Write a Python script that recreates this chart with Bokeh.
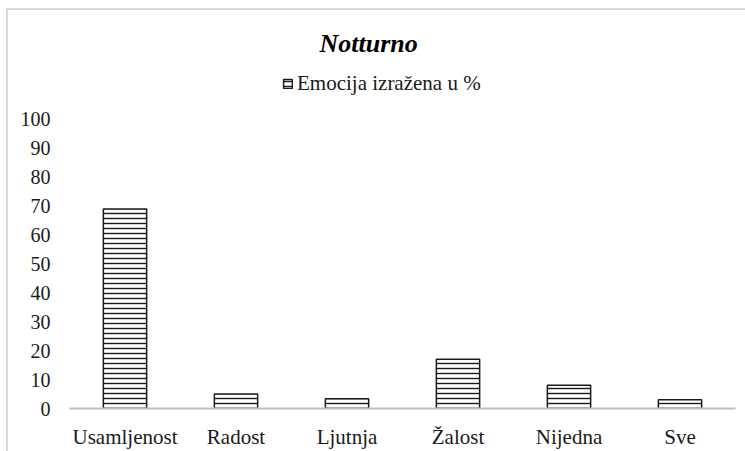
from bokeh.plotting import figure
from bokeh.models import Legend, LegendItem, FixedTicker, Range1d
from bokeh.embed import file_html
from bokeh.resources import INLINE

categories = ["Usamljenost", "Radost", "Ljutnja", "Žalost", "Nijedna", "Sve"]
values = [69, 5, 3.4, 17, 8, 3]
y_ticks = [0, 10, 20, 30, 40, 50, 60, 70, 80, 90, 100]
series_name = "Emocija izražena u %"
title_text = "Notturno"

FONT = "Liberation Serif"

p = figure(x_range=categories, width=745, height=451, output_backend="svg",
           toolbar_location=None, min_border_left=69, min_border_right=10,
           min_border_top=66, min_border_bottom=42)
p.y_range = Range1d(0, 118.3)
p.border_fill_alpha = 0
p.styles = {
    "background": ("linear-gradient(#d9d9d9, #d9d9d9) 6px 8px / 739px 2px no-repeat, "
                   "linear-gradient(#d9d9d9, #d9d9d9) 6px 8px / 2px 443px no-repeat, white"),
}

r = p.vbar(x=categories, top=values, width=0.39, fill_color="white",
           line_color="#1a1a1a", line_width=1.5, hatch_pattern="horizontal_line",
           hatch_color="#1a1a1a", hatch_scale=5, hatch_weight=1.4)

p.title.text = title_text
p.title.align = "left"
p.title.offset = 250
p.title.standoff = 17
p.title.text_font = FONT
p.title.text_font_size = "26px"
p.title.text_font_style = "bold italic"
p.title.text_color = "black"

legend = Legend(items=[LegendItem(label=series_name, renderers=[r])],
                orientation="horizontal", location=(213, 312),
                label_text_font=FONT, label_text_font_size="21px",
                label_text_color="#1a1a1a", glyph_width=11, glyph_height=11,
                border_line_color=None, background_fill_alpha=0,
                padding=2, margin=0, label_standoff=4)
p.add_layout(legend)

p.xgrid.visible = False
p.ygrid.visible = False
p.outline_line_color = None

p.yaxis.ticker = FixedTicker(ticks=y_ticks)
p.yaxis.axis_line_color = None
p.yaxis.major_tick_line_color = None
p.yaxis.minor_tick_line_color = None
p.yaxis.major_label_text_font = FONT
p.yaxis.major_label_text_font_size = "20px"
p.yaxis.major_label_text_color = "#1a1a1a"
p.yaxis.major_label_standoff = 13

p.xaxis.axis_line_color = "#bfbfbf"
p.xaxis.axis_line_width = 2
p.xaxis.major_tick_line_color = None
p.xaxis.minor_tick_line_color = None
p.xaxis.major_label_text_font = FONT
p.xaxis.major_label_text_font_size = "21px"
p.xaxis.major_label_text_color = "#1a1a1a"
p.xaxis.major_label_standoff = 10

open("out.html", "w").write(file_html(p, INLINE))
